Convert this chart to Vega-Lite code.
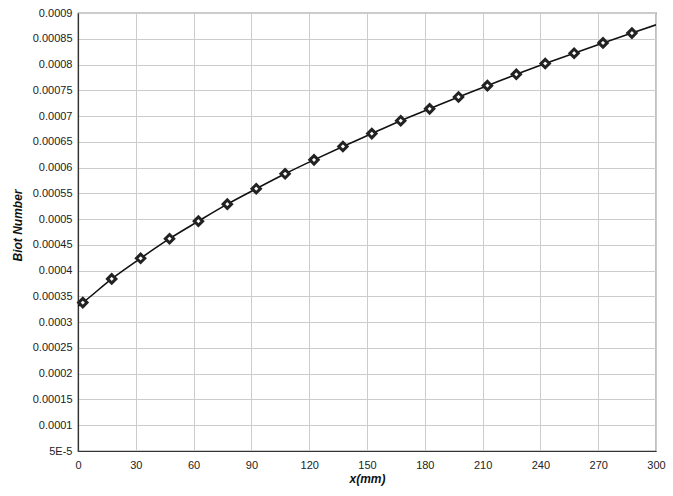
{
  "$schema": "https://vega.github.io/schema/vega-lite/v6.json",
  "autosize": {"type": "none"},
  "width": 578,
  "height": 438,
  "padding": {"left": 78, "top": 13, "right": 17, "bottom": 45},
  "background": "white",
  "config": {
    "font": "Liberation Sans",
    "view": {"stroke": "#333333", "strokeWidth": 1.2},
    "axis": {
      "labelFont": "Liberation Sans",
      "labelFontSize": 11,
      "labelColor": "#222222",
      "titleFont": "Liberation Sans",
      "titleFontSize": 12,
      "titleFontWeight": "bold",
      "titleFontStyle": "italic",
      "titleColor": "#111111",
      "gridColor": "#cccccc",
      "gridWidth": 1,
      "gridOpacity": 1,
      "domainColor": "#333333",
      "domainWidth": 1.2,
      "ticks": false
    }
  },
  "datasets": {
    "curve": [
      {"x": 0, "bi": 0.000331},
      {"x": 2.5, "bi": 0.000338},
      {"x": 17.5, "bi": 0.000384},
      {"x": 32.5, "bi": 0.000424},
      {"x": 47.5, "bi": 0.000462},
      {"x": 62.5, "bi": 0.000496},
      {"x": 77.5, "bi": 0.000529},
      {"x": 92.5, "bi": 0.000559},
      {"x": 107.5, "bi": 0.000588},
      {"x": 122.5, "bi": 0.000615},
      {"x": 137.5, "bi": 0.000641},
      {"x": 152.5, "bi": 0.000666},
      {"x": 167.5, "bi": 0.000691},
      {"x": 182.5, "bi": 0.000714},
      {"x": 197.5, "bi": 0.000737},
      {"x": 212.5, "bi": 0.000759},
      {"x": 227.5, "bi": 0.000781},
      {"x": 242.5, "bi": 0.000802},
      {"x": 257.5, "bi": 0.000822},
      {"x": 272.5, "bi": 0.000842},
      {"x": 287.5, "bi": 0.000861},
      {"x": 300, "bi": 0.000877}
    ],
    "points": [
      {"x": 2.5, "bi": 0.000338},
      {"x": 17.5, "bi": 0.000384},
      {"x": 32.5, "bi": 0.000424},
      {"x": 47.5, "bi": 0.000462},
      {"x": 62.5, "bi": 0.000496},
      {"x": 77.5, "bi": 0.000529},
      {"x": 92.5, "bi": 0.000559},
      {"x": 107.5, "bi": 0.000588},
      {"x": 122.5, "bi": 0.000615},
      {"x": 137.5, "bi": 0.000641},
      {"x": 152.5, "bi": 0.000666},
      {"x": 167.5, "bi": 0.000691},
      {"x": 182.5, "bi": 0.000714},
      {"x": 197.5, "bi": 0.000737},
      {"x": 212.5, "bi": 0.000759},
      {"x": 227.5, "bi": 0.000781},
      {"x": 242.5, "bi": 0.000802},
      {"x": 257.5, "bi": 0.000822},
      {"x": 272.5, "bi": 0.000842},
      {"x": 287.5, "bi": 0.000861}
    ]
  },
  "encoding": {
    "x": {
      "field": "x",
      "type": "quantitative",
      "scale": {"domain": [0, 300], "nice": false, "zero": false},
      "axis": {
        "title": "x(mm)",
        "values": [0, 30, 60, 90, 120, 150, 180, 210, 240, 270, 300],
        "labelPadding": 8,
        "titlePadding": 3,
        "labelFlush": false
      }
    },
    "y": {
      "field": "bi",
      "type": "quantitative",
      "scale": {"domain": [0.00005, 0.0009], "nice": false, "zero": false},
      "axis": {
        "title": "Biot Number",
        "values": [0.00005, 0.0001, 0.00015, 0.0002, 0.00025, 0.0003, 0.00035, 0.0004, 0.00045, 0.0005, 0.00055, 0.0006, 0.00065, 0.0007, 0.00075, 0.0008, 0.00085, 0.0009],
        "labelExpr": "datum.value < 0.00007 ? '5E-5' : format(datum.value, '.5~f')",
        "labelPadding": 6,
        "titlePadding": 8,
        "titleY": 212,
        "labelFlush": false
      }
    }
  },
  "layer": [
    {
      "data": {"name": "curve"},
      "mark": {"type": "line", "color": "#111111", "strokeWidth": 1.6, "interpolate": "monotone", "clip": true}
    },
    {
      "data": {"name": "points"},
      "mark": {"type": "point", "shape": "diamond", "filled": false, "fill": "#ffffff", "fillOpacity": 1, "stroke": "#222222", "strokeWidth": 3, "size": 70, "opacity": 1}
    }
  ]
}
